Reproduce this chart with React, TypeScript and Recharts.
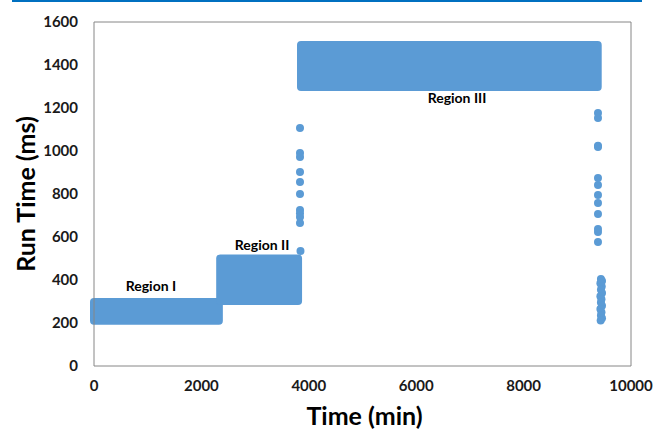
import React from 'react';
import {
  ScatterChart,
  Scatter,
  XAxis,
  YAxis,
  ZAxis,
  ReferenceArea,
  ReferenceDot,
  ReferenceLine,
} from 'recharts';

// Axis ticks
const xTicks = [0, 2000, 4000, 6000, 8000, 10000];
const yTicks = [0, 200, 400, 600, 800, 1000, 1200, 1400, 1600];

// Dense measurement clouds: range of the point centres in each regime
const regionBands = [
  { name: 'Region I', x1: 0, x2: 2325, y1: 210, y2: 298 },
  { name: 'Region II', x1: 2350, x2: 3800, y1: 302, y2: 500 },
  { name: 'Region III', x1: 3855, x2: 9380, y1: 1298, y2: 1493 },
];

// Region captions (anchored in data coordinates)
const regionLabels = [
  { text: 'Region I', x: 1060, y: 372 },
  { text: 'Region II', x: 3130, y: 563 },
  { text: 'Region III', x: 6760, y: 1247 },
];

// Isolated runs while the system moves from Region II to Region III
const transitionUp = [
  { x: 3836, y: 1107 },
  { x: 3836, y: 991 },
  { x: 3836, y: 972 },
  { x: 3836, y: 902 },
  { x: 3836, y: 856 },
  { x: 3836, y: 800 },
  { x: 3836, y: 726 },
  { x: 3836, y: 710 },
  { x: 3836, y: 693 },
  { x: 3836, y: 665 },
  { x: 3845, y: 535 },
];

// Isolated runs after Region III ends
const transitionDown = [
  { x: 9385, y: 1177 },
  { x: 9385, y: 1153 },
  { x: 9385, y: 1025 },
  { x: 9385, y: 1019 },
  { x: 9385, y: 874 },
  { x: 9385, y: 842 },
  { x: 9385, y: 795 },
  { x: 9385, y: 758 },
  { x: 9385, y: 707 },
  { x: 9385, y: 637 },
  { x: 9385, y: 623 },
  { x: 9385, y: 577 },
];

// Final cluster at the end of the run
const tailCluster = [
  { x: 9440, y: 405 },
  { x: 9460, y: 395 },
  { x: 9430, y: 385 },
  { x: 9455, y: 370 },
  { x: 9440, y: 355 },
  { x: 9460, y: 340 },
  { x: 9430, y: 325 },
  { x: 9450, y: 310 },
  { x: 9440, y: 295 },
  { x: 9460, y: 280 },
  { x: 9430, y: 265 },
  { x: 9450, y: 250 },
  { x: 9440, y: 235 },
  { x: 9460, y: 222 },
  { x: 9435, y: 212 },
];

const POINT = '#5b9bd5';
const DOT_R = 4;
const FONT = 'Lato, "Open Sans", sans-serif';
const tickStyle = { fontFamily: FONT, fontWeight: 700, fontSize: 15, fill: '#1a1a1a' };

// Cloud of overlapping dots: the band of centres grown by one dot radius
const CloudShape = (props: any) => {
  const { x, y, width, height } = props;
  return (
    <rect
      x={x - DOT_R}
      y={y - DOT_R}
      width={width + 2 * DOT_R}
      height={height + 2 * DOT_R}
      rx={DOT_R}
      ry={DOT_R}
      fill={POINT}
    />
  );
};

const Dot = (props: any) => <circle cx={props.cx} cy={props.cy} r={DOT_R} fill={POINT} />;

const YTitle = (props: any) => {
  const { viewBox } = props;
  const cx = viewBox.x + 25;
  const cy = viewBox.y + viewBox.height / 2;
  return (
    <text
      x={cx}
      y={cy}
      transform={`rotate(-90, ${cx}, ${cy})`}
      textAnchor="middle"
      dominantBaseline="central"
      style={{ fontFamily: FONT, fontWeight: 700, fontSize: 25, fill: '#000' }}
    >
      Run Time (ms)
    </text>
  );
};

const XTitle = (props: any) => {
  const { viewBox } = props;
  const cx = viewBox.x + viewBox.width / 2 + 2;
  const cy = viewBox.y + 49;
  return (
    <text
      x={cx}
      y={cy}
      textAnchor="middle"
      dominantBaseline="central"
      style={{ fontFamily: FONT, fontWeight: 700, fontSize: 25, fill: '#000' }}
    >
      Time (min)
    </text>
  );
};

export default function App() {
  return (
    <div style={{ position: 'absolute', left: 0, top: 0, width: 655, height: 431, background: '#fff' }}>
      <div
        style={{ position: 'absolute', left: 12, top: 0, width: 630, height: 2, background: '#0070c0' }}
      />
      <ScatterChart
        width={655}
        height={431}
        margin={{ top: 22, right: 24, left: 0, bottom: 0 }}
      >
        <XAxis
          type="number"
          dataKey="x"
          domain={[0, 10000]}
          ticks={xTicks}
          allowDataOverflow
          height={65}
          tickLine={false}
          tickMargin={8}
          axisLine={{ stroke: '#868686', strokeWidth: 1 }}
          tick={tickStyle}
          label={<XTitle />}
        />
        <YAxis
          type="number"
          dataKey="y"
          domain={[0, 1600]}
          ticks={yTicks}
          allowDataOverflow
          width={94}
          tickLine={false}
          tickMargin={10}
          axisLine={{ stroke: '#868686', strokeWidth: 1 }}
          tick={tickStyle}
          label={<YTitle />}
        />
        <ZAxis range={[50, 50]} />
        <ReferenceLine y={1600} stroke="#868686" />
        <ReferenceLine x={10000} stroke="#868686" />
        {regionBands.map((b) => (
          <ReferenceArea
            key={b.name}
            x1={b.x1}
            x2={b.x2}
            y1={b.y1}
            y2={b.y2}
            ifOverflow="visible"
            shape={CloudShape}
          />
        ))}
        <Scatter data={transitionUp} shape={Dot} isAnimationActive={false} />
        <Scatter data={transitionDown} shape={Dot} isAnimationActive={false} />
        <Scatter data={tailCluster} shape={Dot} isAnimationActive={false} />
        {regionLabels.map((l) => (
          <ReferenceDot
            key={l.text}
            x={l.x}
            y={l.y}
            r={0}
            fill="none"
            stroke="none"
            label={{
              value: l.text,
              position: 'center',
              style: { fontFamily: FONT, fontWeight: 700, fontSize: 14, fill: '#000' },
            }}
          />
        ))}
      </ScatterChart>
    </div>
  );
}
